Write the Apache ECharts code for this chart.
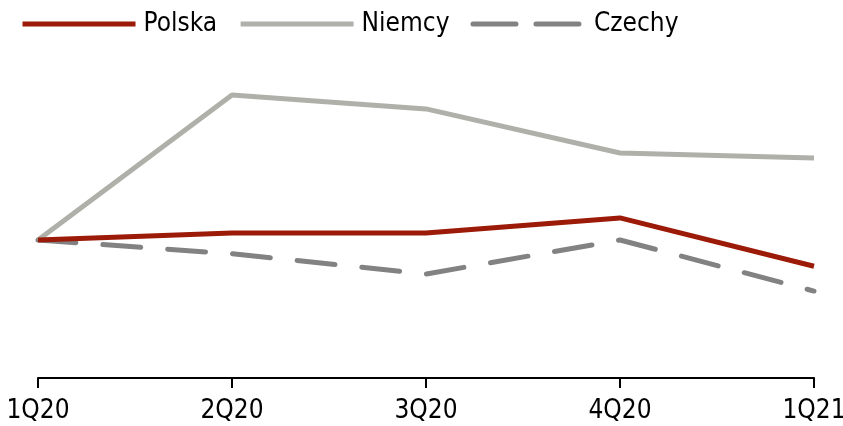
<!DOCTYPE html>
<html><head><meta charset="utf-8">
<script src="https://cdn.jsdelivr.net/npm/echarts@6/dist/echarts.min.js"></script>
<style>html,body{margin:0;padding:0;background:#fff}#c{width:843px;height:426px}</style>
</head><body><div id="c"></div>
<script>
const categories = ['1Q20', '2Q20', '3Q20', '4Q20', '1Q21'];
const polska = [100, 100.15, 100.15, 100.48, 99.43];
const niemcy = [100, 103.15, 102.85, 101.89, 101.78];
const czechy = [100, 99.70, 99.26, 100, 98.89];

const font = "'DejaVu Sans Condensed', 'Liberation Sans', sans-serif";
const chart = echarts.init(document.getElementById('c'));
chart.setOption({
  animation: false,
  legend: {
    left: 15, top: 6,
    itemWidth: 113, itemHeight: 28, itemGap: 21,
    itemStyle: { opacity: 0 },
    lineStyle: { width: 5 },
    textStyle: { fontFamily: font, fontSize: 26, color: '#000', padding: [0, 0, 0, 3] },
    data: [
      { name: 'Polska' },
      { name: 'Niemcy' },
      { name: 'Czechy', lineStyle: { type: [43, 20], cap: 'round', width: 5 } }
    ]
  },
  grid: { left: 38, right: 29, top: 56, bottom: 48, outerBoundsMode: 'none', containLabel: false },
  xAxis: {
    type: 'category', data: categories, boundaryGap: false,
    axisLine: { lineStyle: { color: '#000', width: 2 } },
    axisTick: { show: true, length: 10, lineStyle: { color: '#000', width: 2 } },
    axisLabel: { fontFamily: font, fontSize: 26, color: '#000', margin: 20 }
  },
  yAxis: {
    type: 'value', min: 97, max: 104, show: false, splitLine: { show: false }
  },
  series: [
    { name: 'Polska', type: 'line', data: polska, symbol: 'none', z: 3,
      lineStyle: { color: '#9C1A08', width: 5 }, itemStyle: { color: '#9C1A08' } },
    { name: 'Niemcy', type: 'line', data: niemcy, symbol: 'none', z: 2,
      lineStyle: { color: '#B0B0AA', width: 5 }, itemStyle: { color: '#B0B0AA' } },
    { name: 'Czechy', type: 'line', data: czechy, symbol: 'none', z: 1,
      lineStyle: { color: '#828282', width: 5, type: [38, 27], cap: 'round' }, itemStyle: { color: '#828282' } }
  ]
});
</script></body></html>
